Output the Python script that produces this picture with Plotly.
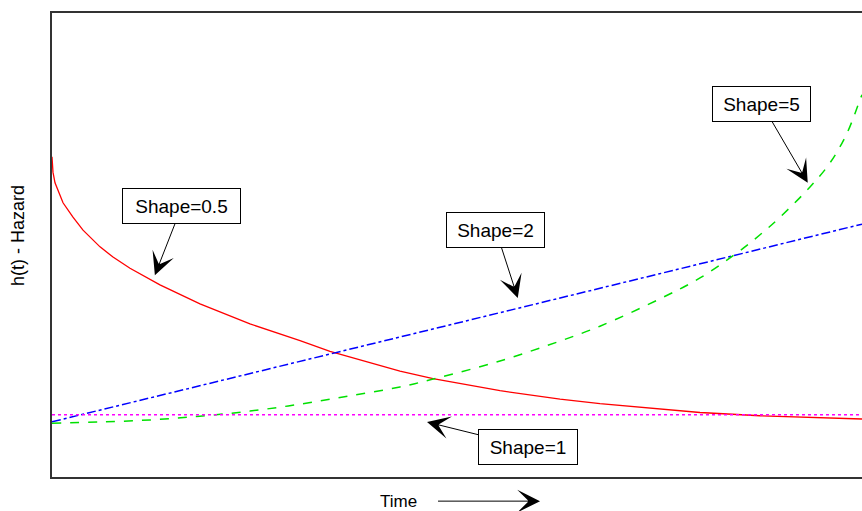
import plotly.graph_objects as go

# Weibull hazard curves (arbitrary units)
red_t = [0, 0.012, 0.037, 0.136, 0.259, 0.383, 0.593, 0.753, 0.963, 1.333, 1.827, 2.444,
         3.062, 3.432, 4.296, 4.704, 5.531, 6.272, 6.765, 7.383, 8.0, 8.741, 9.481, 10]
red_h = [69.0, 65.7, 63.4, 59.1, 56.0, 53.2, 49.6, 47.4, 45.0, 41.4, 37.3, 33.0,
         29.4, 27.1, 22.8, 21.2, 18.6, 16.8, 15.8, 14.8, 13.9, 13.2, 12.8, 12.5]

blue_t = [0, 2.5, 5, 7.5, 10]
blue_h = [11.9, 22.5, 33.2, 43.8, 54.5]

green_t = [0, 0.593, 1.21, 1.827, 2.444, 3.062, 3.679, 4.296, 4.704, 5.531, 6.272, 6.765,
           7.506, 8.0, 8.457, 8.741, 8.988, 9.358, 9.605, 9.815, 9.975, 10]
green_h = [11.6, 11.85, 12.3, 13.1, 14.2, 15.7, 17.5, 19.4, 21.1, 25.0, 29.3, 32.5,
           38.4, 42.9, 48.3, 52.2, 56.0, 62.5, 67.7, 74.1, 81.3, 82.4]

mag_t = [0, 10]
mag_h = [13.4, 13.4]

labels = ["Shape=0.5", "Shape=2", "Shape=5", "Shape=1"]
label_tip_t = [1.27, 5.75, 9.33, 4.63]
label_tip_h = [43.5, 38.6, 63.4, 11.85]

FONT = "Liberation Sans, Arial, sans-serif"

fig = go.Figure()
fig.add_trace(go.Scatter(x=red_t, y=red_h, mode="lines",
                         line=dict(color="#ff0000", width=1.3)))
fig.add_trace(go.Scatter(x=blue_t, y=blue_h, mode="lines",
                         line=dict(color="#0000ff", width=1.5, dash="dashdot")))
fig.add_trace(go.Scatter(x=green_t, y=green_h, mode="lines",
                         line=dict(color="#00e000", width=1.5, dash="dash", shape="spline")))
fig.add_trace(go.Scatter(x=mag_t, y=mag_h, mode="lines",
                         line=dict(color="#ff00ff", width=1.5, dash="dot")))

offsets = [(27, -69), (-22, -68), (-46, -79), (101, 25)]
widths = [105, 85, 85, 86]
for txt, tt, hh, (ax, ay), w in zip(labels, label_tip_t, label_tip_h, offsets, widths):
    fig.add_annotation(x=tt, y=hh, text=txt, showarrow=True, ax=ax, ay=ay,
                       arrowhead=3, arrowsize=3.8, arrowwidth=1, arrowcolor="black",
                       bordercolor="black", borderwidth=1, borderpad=6, bgcolor="white",
                       width=w, height=22, align="center",
                       font=dict(family=FONT, size=19, color="black"))

# X label with arrow
fig.add_annotation(xref="paper", yref="paper", x=0.6025, y=-0.052, text="Time",
                   showarrow=True, ax=-142, ay=0, startstandoff=20,
                   arrowhead=3, arrowsize=3.8, arrowwidth=1, arrowcolor="black",
                   font=dict(family=FONT, size=17, color="black"))
# Y label
fig.add_annotation(xref="paper", yref="paper", x=-0.042, y=0.5216, text="h(t) - Hazard",
                   showarrow=False, textangle=-90, xanchor="center", yanchor="middle",
                   font=dict(family=FONT, size=18, color="black"))

fig.update_layout(
    width=862, height=511,
    margin=dict(l=52, r=0, t=13, b=34),
    plot_bgcolor="white", paper_bgcolor="white",
    showlegend=False,
    xaxis=dict(range=[0, 10], showgrid=False, zeroline=False, showticklabels=False,
               ticks="", showline=True, linecolor="#333333", linewidth=2, mirror=True),
    yaxis=dict(range=[0, 100], showgrid=False, zeroline=False, showticklabels=False,
               ticks="", showline=True, linecolor="#333333", linewidth=2, mirror=False),
)

fig.write_html("out.html")
